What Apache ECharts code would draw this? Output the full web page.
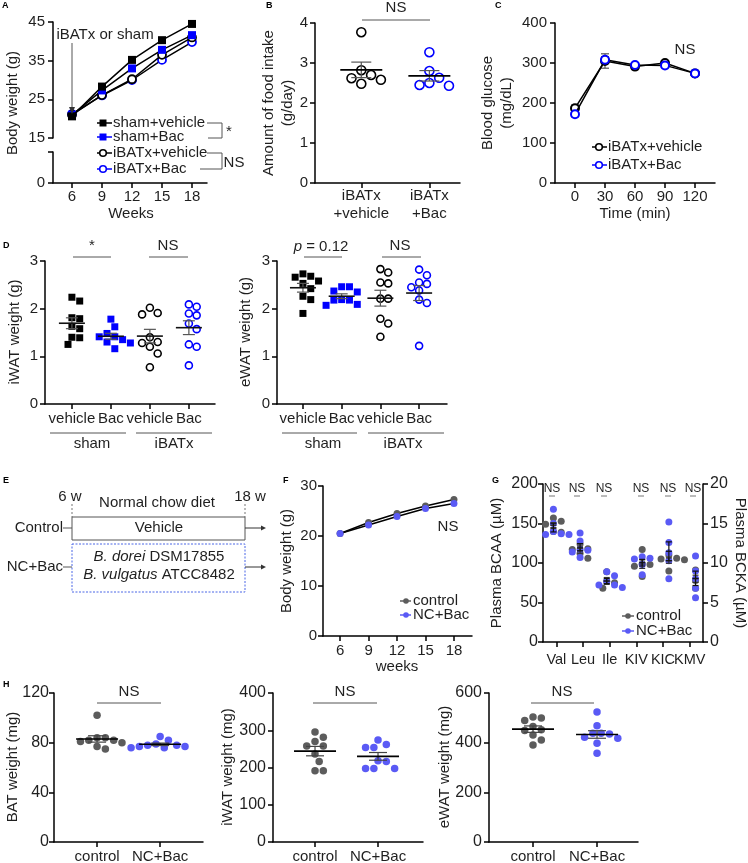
<!DOCTYPE html>
<html>
<head>
<meta charset="utf-8">
<script src="https://cdn.jsdelivr.net/npm/echarts@6.0.0/dist/echarts.min.js"></script>
<style>html,body{margin:0;padding:0;background:#fff;}#chart{width:748px;height:863px;}</style>
</head>
<body>
<div id="chart"></div>
<script>
// ---------------- DATA ----------------
const weeksA = [6, 9, 12, 15, 18];
const shamVehicleA = [20.6, 28.3, 35.2, 40.3, 44.5];
const shamBacA = [21.0, 27.3, 33.0, 37.8, 41.6];
const ibatVehicleA = [21.0, 26.1, 30.2, 36.5, 41.0];
const ibatBacA = [21.2, 26.0, 30.0, 35.2, 39.8];
const ticksA = [15, 25, 35, 45];

const catsB = ['iBATx\n+vehicle', 'iBATx\n+Bac'];
const foodVehicleB = [3.77, 2.82, 2.70, 2.62, 2.58, 2.48];
const foodBacB = [3.27, 2.80, 2.63, 2.50, 2.45, 2.43];

const timeC = [0, 30, 60, 90, 120];
const glucVehicleC = [187, 305, 291, 300, 274];
const glucBacC = [172, 308, 295, 294, 274];
const glucVehicleSemC = [8, 18, 6, 5, 4];
const glucBacSemC = [6, 8, 6, 5, 4];

const catsD = ['vehicle', 'Bac', 'vehicle', 'Bac'];
const iwatShamVeh = [2.24, 2.16, 1.81, 1.79, 1.63, 1.58, 1.40, 1.39, 1.25];
const iwatShamBac = [1.78, 1.62, 1.48, 1.41, 1.41, 1.35, 1.30, 1.28, 1.16];
const iwatIbatVeh = [2.02, 1.91, 1.88, 1.40, 1.30, 1.28, 1.20, 1.06, 0.77];
const iwatIbatBac = [2.09, 2.04, 1.90, 1.86, 1.69, 1.57, 1.25, 1.20, 0.81];
const ewatShamVeh = [2.73, 2.68, 2.66, 2.58, 2.53, 2.42, 2.26, 2.19, 1.90];
const ewatShamBac = [2.46, 2.46, 2.37, 2.35, 2.19, 2.18, 2.18, 2.09, 2.07];
const ewatIbatVeh = [2.83, 2.76, 2.55, 2.53, 2.21, 2.21, 1.79, 1.69, 1.41];
const ewatIbatBac = [2.82, 2.70, 2.55, 2.52, 2.45, 2.38, 2.19, 2.12, 1.22];

const weeksF = [6, 9, 12, 15, 18];
const controlF = [20.5, 22.7, 24.5, 26.0, 27.3];
const bacF = [20.5, 22.2, 23.9, 25.5, 26.5];

const catsG = ['Val', 'Leu', 'Ile', 'KIV', 'KIC', 'KMV'];
const bcaaControl = [[157, 153, 149, 140, 139], [124, 118, 117, 112, 106], [89, 77, 75, 68]];
const bcaaBac = [[168, 150, 140, 137, 136, 136], [138, 128, 117, 116, 114, 107], [89, 84, 77, 72, 72, 69]];
const bckaControl = [[11.7, 9.9, 9.8, 9.6, 8.3], [11.0, 10.6, 10.5, 10.4, 9.0], [9.1, 9.0, 7.8, 7.3, 6.8]];
const bckaBac = [[10.8, 10.6, 10.5, 9.8, 8.5], [15.2, 12.6, 11.3, 10.3, 8.0], [10.9, 9.0, 8.0, 6.8, 5.6]];

const catsH = ['control', 'NC+Bac'];
const batControl = [102, 84, 84, 82, 82, 81, 80, 77, 75];
const batBac = [85, 82, 79, 78, 78, 77, 77, 76, 76];
const iwatControlH = [295, 281, 270, 258, 258, 236, 216, 191, 191];
const iwatBacH = [274, 262, 254, 254, 218, 216, 197, 197, 197];
const ewatControlH = [503, 499, 489, 465, 452, 449, 431, 411, 391];
const ewatBacH = [523, 468, 438, 438, 435, 422, 418, 398, 357];

// ---------------- STYLE / LAYOUT ----------------
const FONT = '"Liberation Sans", Arial, Helvetica, sans-serif';
const TXT = '#1f1f1f';
const BLUE1 = '#0000ff';
const BLUE2 = '#5a5af5';
const GREY = '#5c5c5c';

const L = {
  Aup: {left: 53, top: 22, width: 154, height: 116},
  Alo: {left: 53, top: 152, width: 154, height: 31},
  B: {left: 315, top: 23, width: 145, height: 160},
  C: {left: 555, top: 23, width: 160, height: 160},
  D1: {left: 45, top: 261, width: 170, height: 143},
  D2: {left: 277, top: 261, width: 170, height: 143},
  F: {left: 323, top: 486, width: 149, height: 150},
  G: {left: 543, top: 484, width: 160, height: 158},
  H1: {left: 54, top: 693, width: 149, height: 149},
  H2: {left: 273, top: 693, width: 150, height: 149},
  H3: {left: 489, top: 693, width: 149, height: 149}
};
const gridKeys = ['Aup', 'Alo', 'B', 'C', 'D1', 'D2', 'F', 'G', 'H1', 'H2', 'H3'];
const grids = gridKeys.map(k => Object.assign({show: false, outerBoundsMode: 'none', containLabel: false}, L[k]));
const gi = k => gridKeys.indexOf(k);

function axisBase(extra) {
  const base = {
    type: 'value',
    axisLine: {show: true, onZero: false, lineStyle: {color: '#000', width: 1.5}},
    axisTick: {show: true, length: 5, lineStyle: {color: '#000', width: 1.5}},
    axisLabel: {color: TXT, fontSize: 15, fontFamily: FONT, margin: 8, showMinLabel: true, showMaxLabel: true, hideOverlap: false},
    splitLine: {show: false}
  };
  const o = Object.assign({}, base, extra);
  o.axisLine = Object.assign({}, base.axisLine, extra.axisLine || {});
  o.axisTick = Object.assign({}, base.axisTick, extra.axisTick || {});
  o.axisLabel = Object.assign({}, base.axisLabel, extra.axisLabel || {});
  return o;
}
function ticksAt(vals, margin, fmt, extraLabel) {
  const lab = Object.assign({customValues: vals, margin: margin}, extraLabel || {});
  if (fmt) lab.formatter = fmt;
  return {axisTick: {customValues: vals}, axisLabel: lab};
}
const catFmt = cats => (v => cats[Math.round(v) - 1]);

const XR = {
  Aup: [4.1, 19.5], Alo: [4.1, 19.5], B: [0.32, 2.45], C: [-20, 140],
  D1: [0.31, 4.67], D2: [0.33, 4.72], F: [4.2, 19.9], G: [-0.5, 5.5],
  H1: [0.317, 2.68], H2: [0.333, 2.714], H3: [0.3125, 2.64]
};
const YR = {
  Aup: [15, 45], Alo: [0, 8], B: [0, 4], C: [0, 400], D1: [0, 3], D2: [0, 3],
  F: [0, 30], G: [0, 200], GR: [0, 20], H1: [0, 120], H2: [0, 400], H3: [0, 600]
};
const gCatIdx = catsG.map((_, i) => i);

const xAxes = [
  axisBase({gridIndex: gi('Aup'), show: false, min: XR.Aup[0], max: XR.Aup[1]}),
  axisBase(Object.assign({gridIndex: gi('Alo'), min: XR.Alo[0], max: XR.Alo[1]}, ticksAt(weeksA, 6))),
  axisBase(Object.assign({gridIndex: gi('B'), min: XR.B[0], max: XR.B[1]}, ticksAt([1, 2], 4, catFmt(catsB), {lineHeight: 18}))),
  axisBase(Object.assign({gridIndex: gi('C'), min: XR.C[0], max: XR.C[1]}, ticksAt(timeC, 6))),
  axisBase(Object.assign({gridIndex: gi('D1'), min: XR.D1[0], max: XR.D1[1]}, ticksAt([1, 2, 3, 4], 7, catFmt(catsD)))),
  axisBase(Object.assign({gridIndex: gi('D2'), min: XR.D2[0], max: XR.D2[1]}, ticksAt([1, 2, 3, 4], 7, catFmt(catsD)))),
  axisBase(Object.assign({gridIndex: gi('F'), min: XR.F[0], max: XR.F[1]}, ticksAt(weeksF, 7))),
  axisBase({gridIndex: gi('G'), min: XR.G[0], max: XR.G[1], axisTick: {customValues: gCatIdx}, axisLabel: {show: false}}),
  axisBase({gridIndex: gi('G'), show: false, min: XR.G[0] + 0.11, max: XR.G[1] + 0.11}),
  axisBase({gridIndex: gi('G'), show: false, min: XR.G[0] - 0.22, max: XR.G[1] - 0.22}),
  axisBase(Object.assign({gridIndex: gi('H1'), min: XR.H1[0], max: XR.H1[1]}, ticksAt([1, 2], 7, catFmt(catsH)))),
  axisBase(Object.assign({gridIndex: gi('H2'), min: XR.H2[0], max: XR.H2[1]}, ticksAt([1, 2], 7, catFmt(catsH)))),
  axisBase(Object.assign({gridIndex: gi('H3'), min: XR.H3[0], max: XR.H3[1]}, ticksAt([1, 2], 7, catFmt(catsH))))
];
const XI = {Aup: 0, Alo: 1, B: 2, C: 3, D1: 4, D2: 5, F: 6, G: 7, Gaa: 8, Gka: 9, H1: 10, H2: 11, H3: 12};

const yAxes = [
  axisBase(Object.assign({gridIndex: gi('Aup'), min: 15, max: 45}, ticksAt(ticksA, 8))),
  axisBase({gridIndex: gi('Alo'), min: 0, max: 8, axisTick: {customValues: [0, 8]}, axisLabel: {customValues: [0], margin: 8}}),
  axisBase({gridIndex: gi('B'), min: 0, max: 4, interval: 1, axisLabel: {margin: 7}}),
  axisBase({gridIndex: gi('C'), min: 0, max: 400, interval: 100, axisLabel: {margin: 8}}),
  axisBase({gridIndex: gi('D1'), min: 0, max: 3, interval: 1, axisLabel: {margin: 7}}),
  axisBase({gridIndex: gi('D2'), min: 0, max: 3, interval: 1, axisLabel: {margin: 7}}),
  axisBase({gridIndex: gi('F'), min: 0, max: 30, interval: 10, axisLabel: {margin: 6}}),
  axisBase({gridIndex: gi('G'), min: 0, max: 200, interval: 50, position: 'left', axisLabel: {margin: 5, fontSize: 16}}),
  axisBase({gridIndex: gi('G'), min: 0, max: 20, interval: 5, position: 'right', axisLabel: {margin: 7, fontSize: 16}}),
  axisBase({gridIndex: gi('H1'), min: 0, max: 120, interval: 40, axisLabel: {margin: 5, fontSize: 16}}),
  axisBase({gridIndex: gi('H2'), min: 0, max: 400, interval: 100, axisLabel: {margin: 7, fontSize: 16}}),
  axisBase({gridIndex: gi('H3'), min: 0, max: 600, interval: 200, axisLabel: {margin: 7, fontSize: 16}})
];
const YI = {Aup: 0, Alo: 1, B: 2, C: 3, D1: 4, D2: 5, F: 6, G: 7, GR: 8, H1: 9, H2: 10, H3: 11};

// ---------------- HELPERS ----------------
const mean = a => a.reduce((s, v) => s + v, 0) / a.length;
const sem = a => { const m = mean(a); return Math.sqrt(a.reduce((s, v) => s + (v - m) * (v - m), 0) / (a.length - 1)) / Math.sqrt(a.length); };

function swarm(vals, center, xpx, ypx, d) {
  const idx = vals.map((_, i) => i).sort((a, b) => vals[b] - vals[a]);
  const placed = [], out = [];
  idx.forEach(i => {
    const py = vals[i] * ypx;
    let off = 0;
    for (let k = 0; k < 80; k++) {
      const c = k === 0 ? 0 : (k % 2 ? 1 : -1) * Math.ceil(k / 2) * d * 0.5;
      if (placed.every(p => Math.hypot(p[0] - c, p[1] - py) >= d)) { off = c; break; }
    }
    placed.push([off, py]);
    out.push([center + off / xpx, vals[i]]);
  });
  return out;
}

const series = [];
function pxScale(gk, yk) {
  const g = L[gk], xr = XR[gk], yr = YR[yk || gk];
  return [g.width / (xr[1] - xr[0]), g.height / (yr[1] - yr[0])];
}
function dots(vals, center, xi, yi, scale, sym, color, filled, size, z) {
  series.push({
    type: 'scatter', xAxisIndex: xi, yAxisIndex: yi, symbol: sym, symbolSize: size, z: z || 3,
    data: swarm(vals, center, scale[0], scale[1], size + 0.8),
    itemStyle: filled ? {color: color, opacity: 1} : {color: '#fff', borderColor: color, borderWidth: 1.6, opacity: 1},
    silent: true
  });
}
function errRender(halfW, capW, mColor, eColor, mW) {
  return function (params, api) {
    const x = api.value(0), m = api.value(1), s = api.value(2);
    const pc = api.coord([x, m]), pt = api.coord([x, m + s]), pb = api.coord([x, m - s]);
    const ch = [
      {type: 'line', shape: {x1: pt[0], y1: pt[1], x2: pb[0], y2: pb[1]}, style: {stroke: eColor, lineWidth: 1.2}},
      {type: 'line', shape: {x1: pt[0] - capW, y1: pt[1], x2: pt[0] + capW, y2: pt[1]}, style: {stroke: eColor, lineWidth: 1.2}},
      {type: 'line', shape: {x1: pb[0] - capW, y1: pb[1], x2: pb[0] + capW, y2: pb[1]}, style: {stroke: eColor, lineWidth: 1.2}}
    ];
    if (halfW > 0) ch.push({type: 'line', shape: {x1: pc[0] - halfW, y1: pc[1], x2: pc[0] + halfW, y2: pc[1]}, style: {stroke: mColor, lineWidth: mW}});
    return {type: 'group', children: ch};
  };
}
function meanSem(groups, xi, yi, halfW, capW, mColor, eColor, mW) {
  series.push({
    type: 'custom', xAxisIndex: xi, yAxisIndex: yi, z: 6, silent: true,
    renderItem: errRender(halfW, capW, mColor, eColor || '#444', mW || 1.6),
    data: groups.map(g => [g[0], mean(g[1]), sem(g[1])])
  });
}

// ---------------- SERIES ----------------
// A
[[shamVehicleA, 'rect', '#000', true], [shamBacA, 'rect', BLUE1, true],
 [ibatVehicleA, 'circle', '#000', false], [ibatBacA, 'circle', BLUE1, false]].forEach(([vals, sym, col, filled], k) => {
  series.push({
    type: 'line', xAxisIndex: XI.Aup, yAxisIndex: YI.Aup, z: 3 + (3 - k) * 0.1, silent: true,
    data: weeksA.map((w, i) => [w, vals[i]]),
    symbol: sym, symbolSize: 8, showSymbol: true,
    lineStyle: {color: '#000', width: 1.5},
    itemStyle: filled ? {color: col} : {color: '#fff', borderColor: col, borderWidth: 1.8}
  });
});

// B
{
  const sc = pxScale('B');
  dots(foodVehicleB, 1, XI.B, YI.B, sc, 'circle', '#000', false, 9);
  dots(foodBacB, 2, XI.B, YI.B, sc, 'circle', BLUE1, false, 9);
  meanSem([[1, foodVehicleB], [2, foodBacB]], XI.B, YI.B, 21, 10, '#000', '#555', 1.8);
}

// C
[[glucVehicleC, glucVehicleSemC, '#000'], [glucBacC, glucBacSemC, BLUE1]].forEach(([vals, sems, col], k) => {
  series.push({
    type: 'custom', xAxisIndex: XI.C, yAxisIndex: YI.C, z: 2, silent: true,
    renderItem: errRender(0, 4, '#000', '#555', 1),
    data: timeC.map((t, i) => [t, vals[i], sems[i]])
  });
  series.push({
    type: 'line', xAxisIndex: XI.C, yAxisIndex: YI.C, z: 3 + k * 0.1, silent: true,
    data: timeC.map((t, i) => [t, vals[i]]),
    symbol: 'circle', symbolSize: 8, showSymbol: true,
    lineStyle: {color: '#000', width: 1.5},
    itemStyle: {color: '#fff', borderColor: col, borderWidth: 2}
  });
});

// D
{
  const s1 = pxScale('D1'), s2 = pxScale('D2');
  dots(iwatShamVeh, 1, XI.D1, YI.D1, s1, 'rect', '#000', true, 7);
  dots(iwatShamBac, 2, XI.D1, YI.D1, s1, 'rect', BLUE1, true, 7);
  dots(iwatIbatVeh, 3, XI.D1, YI.D1, s1, 'circle', '#000', false, 7);
  dots(iwatIbatBac, 4, XI.D1, YI.D1, s1, 'circle', BLUE1, false, 7);
  meanSem([[1, iwatShamVeh], [2, iwatShamBac], [3, iwatIbatVeh], [4, iwatIbatBac]], XI.D1, YI.D1, 13, 6, '#111', '#555', 1.6);
  dots(ewatShamVeh, 1, XI.D2, YI.D2, s2, 'rect', '#000', true, 7);
  dots(ewatShamBac, 2, XI.D2, YI.D2, s2, 'rect', BLUE1, true, 7);
  dots(ewatIbatVeh, 3, XI.D2, YI.D2, s2, 'circle', '#000', false, 7);
  dots(ewatIbatBac, 4, XI.D2, YI.D2, s2, 'circle', BLUE1, false, 7);
  meanSem([[1, ewatShamVeh], [2, ewatShamBac], [3, ewatIbatVeh], [4, ewatIbatBac]], XI.D2, YI.D2, 13, 6, '#111', '#555', 1.6);
}

// F
[[controlF, GREY], [bacF, BLUE2]].forEach(([vals, col], k) => {
  series.push({
    type: 'line', xAxisIndex: XI.F, yAxisIndex: YI.F, z: 3 + k * 0.1, silent: true,
    data: weeksF.map((w, i) => [w, vals[i]]),
    symbol: 'circle', symbolSize: 7, showSymbol: true,
    lineStyle: {color: '#000', width: 1.5},
    itemStyle: {color: col}
  });
});

// G
{
  const sc = [L.G.width / 6, L.G.height / 200];
  const scR = [L.G.width / 6, L.G.height / 20];
  bcaaControl.forEach((vals, i) => dots(vals, i, XI.Gaa, YI.G, sc, 'circle', GREY, true, 7, 3));
  bcaaBac.forEach((vals, i) => dots(vals, i, XI.Gaa, YI.G, sc, 'circle', BLUE2, true, 7, 4));
  bckaControl.forEach((vals, i) => dots(vals, i + 3, XI.Gka, YI.GR, scR, 'circle', GREY, true, 7, 3));
  bckaBac.forEach((vals, i) => dots(vals, i + 3, XI.Gka, YI.GR, scR, 'circle', BLUE2, true, 7, 4));
  meanSem(bcaaControl.map((v, i) => [i, v]), XI.Gaa, YI.G, 3, 3, '#333', '#333', 1.2);
  meanSem(bcaaBac.map((v, i) => [i, v]), XI.Gaa, YI.G, 3, 3, '#111', '#111', 1.2);
  meanSem(bckaControl.map((v, i) => [i + 3, v]), XI.Gka, YI.GR, 3, 3, '#333', '#333', 1.2);
  meanSem(bckaBac.map((v, i) => [i + 3, v]), XI.Gka, YI.GR, 3, 3, '#111', '#111', 1.2);
}

// H
[['H1', batControl, batBac], ['H2', iwatControlH, iwatBacH], ['H3', ewatControlH, ewatBacH]].forEach(([k, c, b]) => {
  const sc = pxScale(k);
  dots(c, 1, XI[k], YI[k], sc, 'circle', GREY, true, 7.5);
  dots(b, 2, XI[k], YI[k], sc, 'circle', BLUE2, true, 7.5);
  meanSem([[1, c], [2, b]], XI[k], YI[k], 21, 9, '#000', '#444', 1.6);
});

// ---------------- ANNOTATIONS ----------------
const gfx = [];
function txt(x, y, s, o) {
  o = o || {};
  gfx.push({type: 'text', x: x, y: y, rotation: o.rot || 0, z: 100, silent: true,
    style: Object.assign({text: s, fontSize: 15, fontFamily: FONT, fill: TXT, align: 'center', verticalAlign: 'middle'}, o.style || {})});
}
function ln(x1, y1, x2, y2, c, w, dash) {
  gfx.push({type: 'line', z: 100, silent: true, shape: {x1: x1, y1: y1, x2: x2, y2: y2}, style: {stroke: c || '#555', lineWidth: w || 1, lineDash: dash || null}});
}
function tri(pts, c) {
  gfx.push({type: 'polygon', z: 100, silent: true, shape: {points: pts}, style: {fill: c || '#333'}});
}
function sq(cx, cy, s, col) {
  gfx.push({type: 'rect', z: 101, silent: true, shape: {x: cx - s / 2, y: cy - s / 2, width: s, height: s}, style: {fill: col}});
}
function circ(cx, cy, r, col, filled) {
  gfx.push({type: 'circle', z: 101, silent: true, shape: {cx: cx, cy: cy, r: r},
    style: filled ? {fill: col} : {fill: '#fff', stroke: col, lineWidth: 1.6}});
}
const ROT = Math.PI / 2;

// panel letters
[['A', 2, 6], ['B', 266, 6], ['C', 495, 6], ['D', 3, 246], ['E', 3, 481], ['F', 283, 481], ['G', 492, 481], ['H', 3, 685]]
  .forEach(([s, x, y]) => txt(x, y, s, {style: {fontSize: 9, fontWeight: 'bold', align: 'left', fill: '#000'}}));

// A
txt(13, 103, 'Body weight (g)', {rot: ROT});
txt(131, 214, 'Weeks');
txt(105, 35, 'iBATx or sham');
ln(72, 43, 72, 108, '#555', 1);
tri([[69, 107], [75, 107], [72, 114]], '#333');
[['sham+vehicle', 123, 'sq', '#000', '#000'], ['sham+Bac', 137, 'sq', BLUE1, BLUE1],
 ['iBATx+vehicle', 153, 'ci', '#000', '#000'], ['iBATx+Bac', 169, 'ci', BLUE1, BLUE1]].forEach(([s, y, t, col, lc]) => {
  ln(97, y, 112, y, lc, 1.5);
  if (t === 'sq') sq(103, y, 7, col); else circ(103, y, 3.3, col, false);
  txt(113, y, s, {style: {align: 'left'}});
});
ln(207, 123, 222, 123, '#555'); ln(208, 138, 222, 138, '#555'); ln(222, 123, 222, 138, '#555');
txt(229, 132, '*');
ln(207, 153, 222, 153, '#555'); ln(200, 169, 222, 169, '#555'); ln(222, 153, 222, 169, '#555');
txt(234, 163, 'NS');

// B
txt(269, 103, 'Amount of food intake', {rot: ROT});
txt(288, 103, '(g/day)', {rot: ROT});
txt(396, 8, 'NS');
ln(362, 20, 430, 20, '#555');

// C
txt(488, 103, 'Blood glucose', {rot: ROT});
txt(507, 103, '(mg/dL)', {rot: ROT});
txt(635, 214, 'Time (min)');
txt(685, 50, 'NS');
[['iBATx+vehicle', 147, '#000'], ['iBATx+Bac', 165, BLUE1]].forEach(([s, y, col]) => {
  ln(592, y, 607, y, col, 1.5);
  circ(599, y, 3.3, col, false);
  txt(608, y, s, {style: {align: 'left'}});
});

// D
txt(15, 332, 'iWAT weight (g)', {rot: ROT});
txt(246, 332, 'eWAT weight (g)', {rot: ROT});
ln(50, 433, 126, 433, '#555'); txt(92, 444, 'sham');
ln(136, 433, 212, 433, '#555'); txt(174, 444, 'iBATx');
ln(282, 433, 357, 433, '#555'); txt(323, 444, 'sham');
ln(368, 433, 444, 433, '#555'); txt(403, 444, 'iBATx');
txt(92, 246, '*'); ln(73, 257, 111, 257, '#555');
txt(168, 246, 'NS'); ln(149, 257, 188, 257, '#555');
txt(321, 247, '{i|p} = 0.12', {style: {rich: {i: {fontStyle: 'italic', fontSize: 15, fontFamily: FONT, fill: TXT}}}});
ln(304, 257, 342, 257, '#555');
txt(400, 246, 'NS'); ln(382, 257, 421, 257, '#555');

// E
txt(70, 497, '6 w');
txt(250, 497, '18 w');
txt(157, 503, 'Normal chow diet');
ln(72, 504, 72, 517, '#777', 1, [2, 2]);
ln(245, 504, 245, 517, '#777', 1, [2, 2]);
gfx.push({type: 'rect', z: 100, silent: true, shape: {x: 72, y: 517, width: 173, height: 23}, style: {fill: 'none', stroke: '#555', lineWidth: 1}});
txt(159, 528, 'Vehicle');
txt(63, 528, 'Control', {style: {align: 'right'}});
ln(63, 528, 72, 528, '#555');
ln(245, 528, 262, 528, '#333'); tri([[261, 525.5], [261, 530.5], [266, 528]], '#333');
gfx.push({type: 'rect', z: 100, silent: true, shape: {x: 72, y: 544, width: 173, height: 48}, style: {fill: 'none', stroke: '#4a66e6', lineWidth: 1, lineDash: [2, 1.5]}});
const itRich = {i: {fontStyle: 'italic', fontSize: 15, fontFamily: FONT, fill: TXT}};
txt(159, 557, '{i|B. dorei} DSM17855', {style: {rich: itRich}});
txt(159, 575, '{i|B. vulgatus} ATCC8482', {style: {rich: itRich}});
txt(63, 567, 'NC+Bac', {style: {align: 'right'}});
ln(63, 567, 72, 567, '#555');
ln(245, 567, 262, 567, '#333'); tri([[261, 564.5], [261, 569.5], [266, 567]], '#333');

// F
txt(287, 561, 'Body weight (g)', {rot: ROT});
txt(397, 667, 'weeks');
txt(448, 527, 'NS');
[['control', 601, GREY], ['NC+Bac', 615, BLUE2]].forEach(([s, y, col]) => {
  ln(400, y, 411, y, col, 1.5);
  circ(406, y, 2.8, col, true);
  txt(413, y, s, {style: {align: 'left'}});
});

// G
txt(497, 563, 'Plasma BCAA (µM)', {rot: ROT});
txt(740, 563, 'Plasma BCKA (µM)', {rot: -ROT});
[552, 577, 604, 641, 668, 693].forEach(x => {
  txt(x, 489, 'NS', {style: {fontSize: 12}});
  ln(x - 3, 496, x + 3, 496, '#777', 1);
});
[['control', 616, GREY], ['NC+Bac', 631, BLUE2]].forEach(([s, y, col]) => {
  ln(622, y, 634, y, col, 1.5);
  circ(628, y, 2.8, col, true);
  txt(636, y, s, {style: {align: 'left'}});
});

// H
txt(13, 767, 'BAT weight (mg)', {rot: ROT});
txt(228, 767, 'iWAT weight (mg)', {rot: ROT});
txt(445, 767, 'eWAT weight (mg)', {rot: ROT});
txt(129, 692, 'NS'); ln(97, 703, 161, 703, '#555');
txt(345, 692, 'NS'); ln(313, 703, 377, 703, '#555');
txt(562, 692, 'NS'); ln(531, 703, 594, 703, '#555');

// ---------------- CHART ----------------
const chart = echarts.init(document.getElementById('chart'), null, {renderer: 'canvas', width: 748, height: 863});
chart.setOption({
  backgroundColor: '#fff',
  animation: false,
  textStyle: {fontFamily: FONT},
  grid: grids,
  xAxis: xAxes,
  yAxis: yAxes,
  series: series
});
// G category labels: placed at the library's own pixel position for each category tick
catsG.forEach((c, i) => {
  const p = chart.convertToPixel({xAxisIndex: XI.G, yAxisIndex: YI.G}, [i, 0]);
  txt(p[0], p[1] + 18, c, {style: {fontSize: 14.5}});
});
chart.setOption({graphic: {elements: gfx}});
</script>
</body>
</html>
